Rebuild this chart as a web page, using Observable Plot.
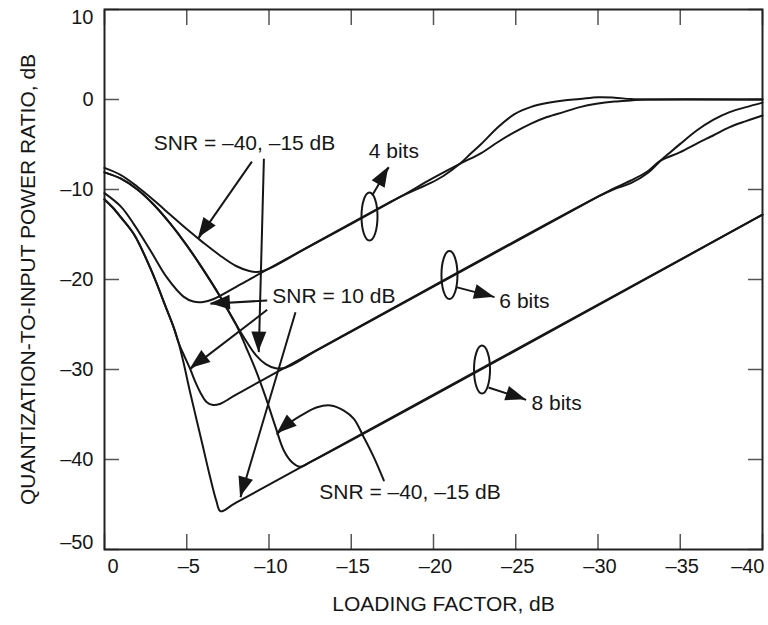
<!DOCTYPE html>
<html>
<head>
<meta charset="utf-8">
<script src="https://cdn.jsdelivr.net/npm/d3@7"></script>
<script src="https://cdn.jsdelivr.net/npm/@observablehq/plot@0.6"></script>
<style>
  html, body { margin: 0; padding: 0; background: #fff; }
  #chart { width: 768px; height: 625px; }
</style>
</head>
<body>
<div id="chart"></div>
<script>
// ---------- data (loading factor dB, quantization-to-input power ratio dB) ----------
const LF_TICKS = [0, -5, -10, -15, -20, -25, -30, -35, -40];
const RATIO_TICKS = [10, 0, -10, -20, -30, -40, -50];

const bits4_snrLow = [[0,-7.6],[-1,-8.4],[-2,-9.7],[-3,-11.2],[-4,-12.8],[-5,-14.4],[-6,-15.9],[-7,-17.3],[-8,-18.5],[-8.8,-19.05],[-9.4,-19.15],[-10,-18.8],[-12,-16.8],[-18,-10.8],[-19.8,-8.9],[-21.6,-7.15],[-22.9,-5.95],[-23.9,-4.75],[-24.9,-3.65],[-25.9,-2.7],[-26.9,-1.95],[-27.9,-1.4],[-28.9,-0.85],[-29.9,-0.48],[-31,-0.22],[-32,-0.1],[-33,0],[-40,0]];
const bits4_snr10 = [[0,-10.4],[-1,-11.9],[-1.8,-13.9],[-2.8,-16.8],[-3.8,-19.8],[-4.8,-21.9],[-5.4,-22.45],[-6,-22.5],[-6.6,-22.2],[-8.6,-20.2],[-18,-10.8],[-19,-9.95],[-19.8,-9.3],[-20.6,-8.5],[-21.6,-7.15],[-22.3,-5.95],[-22.9,-4.95],[-23.9,-3.1],[-24.9,-1.65],[-25.9,-0.85],[-26.9,-0.4],[-27.9,-0.12],[-28.9,0.05],[-30,0.25],[-31,0.2],[-32,0.05],[-33,0],[-40,0]];
const bits6_snrLow = [[0,-8.1],[-1,-8.8],[-2,-10.0],[-3,-11.7],[-4,-13.8],[-5,-16.2],[-6,-18.9],[-7,-21.8],[-7.5,-23.4],[-8.0,-25.0],[-8.6,-26.8],[-9.2,-28.4],[-9.8,-29.4],[-10.4,-29.85],[-11,-29.8],[-13,-27.8],[-30,-10.8],[-31,-9.85],[-32,-9.0],[-33,-8.0],[-33.8,-6.8],[-35,-5.85],[-36,-4.9],[-37,-4.0],[-38,-3.07],[-39,-2.4],[-40,-1.78]];
const bits6_snr10 = [[0,-11.1],[-0.5,-12.0],[-1,-13.1],[-1.8,-15.0],[-2.8,-18.8],[-3.8,-23.4],[-4.2,-25.3],[-4.5,-27.0],[-4.85,-28.5],[-5.2,-29.9],[-5.5,-31.3],[-5.84,-32.6],[-6.2,-33.6],[-6.6,-33.95],[-7.05,-33.8],[-8,-32.8],[-30,-10.8],[-31,-9.95],[-32,-9.3],[-33,-8.2],[-33.8,-6.8],[-34.4,-5.85],[-35,-4.93],[-36,-3.44],[-37,-2.26],[-38,-1.4],[-39,-0.85],[-40,-0.35]];
const bits8_snrLow = [[0,-8.1],[-1,-8.8],[-2,-10.0],[-3,-11.7],[-4,-13.8],[-5,-16.2],[-6,-18.9],[-7,-21.8],[-7.5,-23.4],[-8.0,-25.0],[-8.6,-27.5],[-9.2,-30.1],[-9.8,-33.1],[-10.4,-36.4],[-10.9,-39.0],[-11.4,-40.3],[-11.9,-40.8],[-12.5,-40.3],[-40,-12.8]];
const bits8_snr10 = [[0,-11.1],[-0.5,-12.0],[-1,-13.1],[-1.8,-15.0],[-2.8,-18.8],[-3.8,-23.4],[-4.2,-25.3],[-4.5,-27.0],[-4.8,-29.2],[-5.2,-32.5],[-5.6,-35.6],[-6.0,-38.7],[-6.4,-41.8],[-6.8,-44.6],[-7.05,-45.75],[-8,-44.8],[-40,-12.8]];

const curveSeries = [
  ["4 bits, SNR = –40, –15 dB", bits4_snrLow],
  ["4 bits, SNR = 10 dB", bits4_snr10],
  ["6 bits, SNR = –40, –15 dB", bits6_snrLow],
  ["6 bits, SNR = 10 dB", bits6_snr10],
  ["8 bits, SNR = –40, –15 dB", bits8_snrLow],
  ["8 bits, SNR = 10 dB", bits8_snr10]
];

// ---------- annotations (data units) ----------
const labelTexts = ["SNR = –40, –15 dB", "SNR = 10 dB", "SNR = –40, –15 dB", "4 bits", "6 bits", "8 bits"];
const labelLF    = [-8.51, -13.94, -18.57, -17.59, -25.53, -27.48];
const labelRatio = [-4.83, -21.87, -43.67, -5.76, -22.39, -33.72];

// straight arrows: start (lf, ratio) -> tip (lf, ratio)
const arrowFromLF    = [-8.96, -9.69, -9.89, -9.89, -11.61, -16.27, -21.38, -23.34];
const arrowFromRatio = [-6.9, -6.59, -22.33, -23.37, -23.63, -10.67, -20.85, -32.0];
const arrowToLF      = [-5.72, -9.38, -6.44, -5.23, -8.27, -17.28, -23.71, -25.63];
const arrowToRatio   = [-15.4, -28.07, -22.7, -29.9, -44.2, -7.52, -21.96, -33.37];

// curved arrow (bottom label -> 8-bit curve)
const curvedArrowLF    = [-16.98, -16.37, -15.76, -15.16, -14.55, -13.74, -12.93, -12.12, -11.31, -10.5];
const curvedArrowRatio = [-42.33, -39.74, -37.52, -35.48, -34.56, -34.0, -34.19, -34.92, -35.85, -37.15];

// ellipses grouping each bit family
const ellipseLF    = [-16.14, -21.0, -22.98];
const ellipseRatio = [-13.06, -19.56, -30.06];

// ---------- build tables ----------
const curveRows = curveSeries.flatMap(([id, pts]) => pts.map(([lf, r]) => ({id, lf, r})));
const labels = labelTexts.map((t, i) => ({t, lf: labelLF[i], r: labelRatio[i]}));
const arrows = arrowFromLF.map((_, i) => ({x1: arrowFromLF[i], y1: arrowFromRatio[i], x2: arrowToLF[i], y2: arrowToRatio[i]}));
const curvedArrow = curvedArrowLF.map((lf, i) => ({lf, r: curvedArrowRatio[i]}));
const ellipses = ellipseLF.map((lf, i) => ({lf, r: ellipseRatio[i]}));
const n = curvedArrow.length;
const heads = arrows.concat([{x1: curvedArrow[n - 2].lf, y1: curvedArrow[n - 2].r, x2: curvedArrow[n - 1].lf, y2: curvedArrow[n - 1].r}]);

const fmt = v => v < 0 ? "–" + Math.abs(v) : String(v);
const INK = "#161616";
const FONT = "Liberation Sans, Arial, Helvetica, sans-serif";

function headsMark(list) {
  return (index, scales) => {
    const g = d3.create("svg:g");
    for (const a of list) {
      const x1 = scales.x(a.x1), y1 = scales.y(a.y1), x2 = scales.x(a.x2), y2 = scales.y(a.y2);
      const ang = Math.atan2(y2 - y1, x2 - x1);
      const L = 20, W = 7.5;
      const bx = x2 - L * Math.cos(ang), by = y2 - L * Math.sin(ang);
      const nx = -Math.sin(ang) * W, ny = Math.cos(ang) * W;
      g.append("path")
        .attr("d", `M${x2},${y2}L${bx + nx},${by + ny}L${bx - nx},${by - ny}Z`)
        .attr("fill", INK);
    }
    return g.node();
  };
}
function ellipseMark(list) {
  return (index, scales) => {
    const g = d3.create("svg:g");
    for (const e of list) {
      g.append("ellipse")
        .attr("cx", scales.x(e.lf)).attr("cy", scales.y(e.r))
        .attr("rx", 8).attr("ry", 24)
        .attr("fill", "none").attr("stroke", INK).attr("stroke-width", 2);
    }
    return g.node();
  };
}

const tickStyle = {tickSize: -15, fill: "none", label: null, stroke: "#555", strokeWidth: 1.5};

const chart = Plot.plot({
  width: 768,
  height: 625,
  marginLeft: 104,
  marginRight: 6,
  marginTop: 9,
  marginBottom: 76,
  style: {fontFamily: FONT, fontSize: "20px", background: "#fff", color: INK, overflow: "visible"},
  x: {domain: [0, -40]},
  y: {domain: [-50, 10]},
  marks: [
    Plot.axisX(LF_TICKS, {anchor: "bottom", ...tickStyle}),
    Plot.axisX(LF_TICKS, {anchor: "top", ...tickStyle}),
    Plot.axisY(RATIO_TICKS, {anchor: "left", ...tickStyle}),
    Plot.axisY(RATIO_TICKS, {anchor: "right", ...tickStyle}),
    Plot.frame({stroke: "#222", strokeWidth: 2}),
    // tick labels
    Plot.text(LF_TICKS.slice(0, 1), {x: d => d, text: fmt, frameAnchor: "bottom", dy: 23, dx: 3, textAnchor: "start", fontSize: 20, fill: INK}),
    Plot.text(LF_TICKS.slice(1, -1), {x: d => d, text: fmt, frameAnchor: "bottom", dy: 23, dx: 2, textAnchor: "middle", fontSize: 20, fill: INK}),
    Plot.text(LF_TICKS.slice(-1), {x: d => d, text: fmt, frameAnchor: "bottom", dy: 23, dx: 2, textAnchor: "end", fontSize: 20, fill: INK}),
    Plot.text(RATIO_TICKS.slice(0, 1), {y: d => d, text: fmt, frameAnchor: "left", dx: -11, dy: 8, textAnchor: "end", fontSize: 20, fill: INK}),
    Plot.text(RATIO_TICKS.slice(1, -1), {y: d => d, text: fmt, frameAnchor: "left", dx: -11, textAnchor: "end", fontSize: 20, fill: INK}),
    Plot.text(RATIO_TICKS.slice(-1), {y: d => d, text: fmt, frameAnchor: "left", dx: -11, dy: -7, textAnchor: "end", fontSize: 20, fill: INK}),
    // axis titles
    Plot.text(["LOADING FACTOR, dB"], {text: d => d, frameAnchor: "bottom", dy: 61, dx: 10, textAnchor: "middle", fontSize: 21, fill: INK}),
    Plot.text(["QUANTIZATION-TO-INPUT POWER RATIO, dB"], {text: d => d, frameAnchor: "left", dx: -76, rotate: -90, textAnchor: "middle", fontSize: 21, fill: INK}),
    // curves
    Plot.line(curveRows, {x: "lf", y: "r", z: "id", curve: "catmull-rom", stroke: INK, strokeWidth: 2}),
    // annotations
    ellipseMark(ellipses),
    Plot.link(arrows, {x1: "x1", y1: "y1", x2: "x2", y2: "y2", stroke: INK, strokeWidth: 2}),
    Plot.line(curvedArrow, {x: "lf", y: "r", curve: "catmull-rom", stroke: INK, strokeWidth: 2}),
    headsMark(heads),
    Plot.text(labels, {x: "lf", y: "r", text: "t", fontSize: 21, fill: INK})
  ]
});
document.getElementById("chart").appendChild(chart);
</script>
</body>
</html>
